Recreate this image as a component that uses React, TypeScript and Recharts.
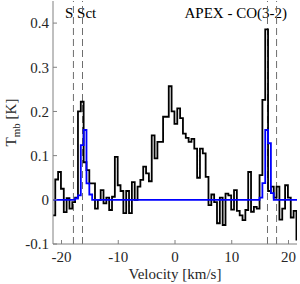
import { Line, LineChart, ReferenceLine, XAxis, YAxis } from "recharts";

const FONT = "'Liberation Serif', 'Times New Roman', serif";
const AXIS_GRAY = "#808080";
const TEXT_DARK = "#262626";

// channel grid of the spectrum (left edge of first channel, width), km/s
const CHANNEL_START = -21.6;
const CHANNEL_WIDTH = 0.5;

// observed APEX CO(3-2) spectrum, T_mb in K per channel
const observed = [
  -0.035, 0.046, 0.063, 0.025, -0.028, 0.004, -0.02, -0.005, 0.005, 0.2,
  0.222, 0.085, 0.067, 0.037, 0.037, -0.02, 0.0, 0.022, -0.008, 0.005,
  -0.023, 0.007, 0.097, 0.033, 0.02, -0.03, 0.02, -0.03, 0.04, 0.0,
  0.03, 0.045, 0.075, 0.06, 0.042, 0.146, 0.094, 0.131, 0.131, 0.188,
  0.188, 0.257, 0.2, 0.172, 0.207, 0.185, 0.15, 0.14, 0.131, 0.138,
  0.116, 0.05, 0.116, 0.105, 0.052, -0.012, 0.012, -0.005, -0.053, 0.005,
  -0.057, 0.014, 0.01, -0.022, 0.022, -0.025, -0.035, -0.046, -0.023, 0.063,
  -0.027, -0.016, -0.02, 0.056, 0.226, 0.386, 0.02, 0.03, 0.005, 0.03,
  -0.045, -0.02, 0.033, 0.005, -0.04, -0.025, -0.09,
];

// model of the detached shell
const model = [
  0, 0, 0, 0, 0, 0, 0, 0, 0.003, 0.01,
  0.124, 0.158, 0.037, 0.012, 0, 0, 0, 0, 0, 0,
  0, 0, 0, 0, 0, 0, 0, 0, 0, 0,
  0, 0, 0, 0, 0, 0, 0, 0, 0, 0,
  0, 0, 0, 0, 0, 0, 0, 0, 0, 0,
  0, 0, 0, 0, 0, 0, 0, 0, 0, 0,
  0, 0, 0, 0, 0, 0, 0, 0, 0, 0,
  0, 0, 0, 0.005, 0.038, 0.158, 0.128, 0.015, 0, 0,
  0, 0, 0, 0, 0, 0, 0,
];

const shellVelocities = [-17.9, -16.3, 16.3, 17.9];
const velocityTicks = [-20, -10, 0, 10, 20];
const tmbTicks = [-0.1, 0, 0.1, 0.2, 0.3, 0.4];

const rows = observed.map((tmb, i) => ({
  v: CHANNEL_START + i * CHANNEL_WIDTH,
  tmb,
  model: model[i],
}));
// closing edge so the last channel keeps its width with stepAfter
rows.push({
  v: CHANNEL_START + observed.length * CHANNEL_WIDTH,
  tmb: observed[observed.length - 1],
  model: model[model.length - 1],
});

const fmt = (value: number) => (value === 0 ? "0" : String(value));

export default function App() {
  return (
    <div style={{ position: "absolute", left: 0, top: 0, width: 300, height: 284, background: "#fff" }}>
      <LineChart
        width={300}
        height={284}
        data={rows}
        margin={{ top: 1, right: 3, bottom: 0, left: 0 }}
        style={{ fontFamily: FONT }}
      >
        <XAxis
          dataKey="v"
          type="number"
          domain={[-21.5, 21.5]}
          ticks={velocityTicks}
          allowDataOverflow
          height={40}
          stroke={AXIS_GRAY}
          tickSize={-4}
          tickMargin={11}
          tick={{ fill: TEXT_DARK, fontSize: 15 }}
        />
        <XAxis
          xAxisId="top"
          orientation="top"
          dataKey="v"
          type="number"
          domain={[-21.5, 21.5]}
          ticks={velocityTicks}
          allowDataOverflow
          height={0}
          stroke={AXIS_GRAY}
          tickSize={-4}
          tick={false}
        />
        <YAxis
          type="number"
          domain={[-0.1, 0.45]}
          ticks={tmbTicks}
          allowDataOverflow
          width={53}
          stroke={AXIS_GRAY}
          tickSize={-4}
          tickMargin={8}
          tickFormatter={fmt}
          tick={{ fill: TEXT_DARK, fontSize: 15 }}
        />
        <YAxis
          yAxisId="right"
          orientation="right"
          type="number"
          domain={[-0.1, 0.45]}
          ticks={tmbTicks}
          allowDataOverflow
          width={0}
          stroke={AXIS_GRAY}
          tickSize={-4}
          tick={false}
        />
        {shellVelocities.map((v) => (
          <ReferenceLine key={v} x={v} stroke="#6e6e6e" strokeWidth={1} strokeDasharray="7 4" />
        ))}
        <Line
          type="stepAfter"
          dataKey="tmb"
          stroke="#000"
          strokeWidth={1.8}
          dot={false}
          isAnimationActive={false}
        />
        <Line
          type="stepAfter"
          dataKey="model"
          stroke="#0000ff"
          strokeWidth={1.8}
          dot={false}
          isAnimationActive={false}
        />
        <text x={65} y={17.5} fontSize={15} fill="#000" fontFamily={FONT}>
          S Sct
        </text>
        <text x={287} y={17.5} fontSize={15} fill="#000" textAnchor="end" fontFamily={FONT}>
          APEX - CO(3-2)
        </text>
        <text x={175} y={278.5} fontSize={15} fill={TEXT_DARK} textAnchor="middle" fontFamily={FONT}>
          Velocity [km/s]
        </text>
        <text
          transform="translate(16,122.5) rotate(-90)"
          fontSize={15}
          fill={TEXT_DARK}
          textAnchor="middle"
          fontFamily={FONT}
        >
          T
          <tspan dy={4} fontSize={11}>
            mb
          </tspan>
          <tspan dy={-4}> [K]</tspan>
        </text>
      </LineChart>
    </div>
  );
}
